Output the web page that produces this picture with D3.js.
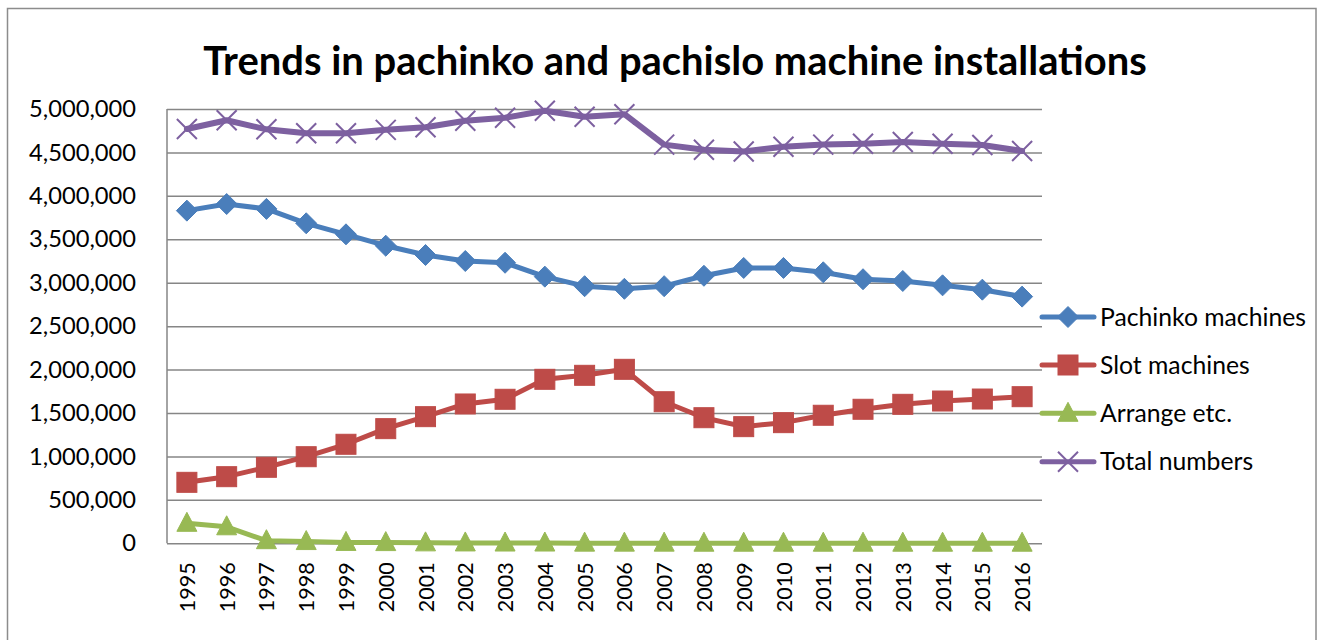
<!DOCTYPE html>
<html>
<head>
<meta charset="utf-8">
<script src="https://cdn.jsdelivr.net/npm/d3@7/dist/d3.min.js"></script>
<style>
  html, body { margin: 0; padding: 0; background: #fff; }
  svg { display: block; }
  text { font-family: Lato, "Open Sans", sans-serif; fill: #000; }
</style>
</head>
<body>
<svg id="chart" width="1319" height="640"></svg>
<script>
const years = ["1995","1996","1997","1998","1999","2000","2001","2002","2003","2004","2005","2006","2007","2008","2009","2010","2011","2012","2013","2014","2015","2016"];
const pachinko = [3830000,3906000,3850000,3684000,3557000,3426000,3319000,3250000,3230000,3070000,2960000,2930000,2960000,3080000,3170000,3170000,3120000,3040000,3020000,2970000,2920000,2840000];
const slot = [702000,767000,875000,997000,1140000,1320000,1458000,1604000,1658000,1888000,1934000,2003000,1630000,1446000,1343000,1389000,1474000,1543000,1600000,1638000,1661000,1688000];
const arrange = [230000,190000,30000,20000,10000,8000,5000,4000,3000,3000,2000,2000,2000,1000,1000,1000,1000,1000,1000,1000,1000,1000];
const total = [4770000,4870000,4766000,4720000,4720000,4760000,4790000,4865000,4900000,4980000,4910000,4940000,4590000,4530000,4510000,4566000,4590000,4600000,4620000,4600000,4585000,4517000];
const yTicks = [0,500000,1000000,1500000,2000000,2500000,3000000,3500000,4000000,4500000,5000000];
const seriesNames = ["Pachinko machines","Slot machines","Arrange etc.","Total numbers"];
const titleText = "Trends in pachinko and pachislo machine installations";

const series = [
  {name: seriesNames[0], values: pachinko, color: "#4A7EBB", marker: "diamond"},
  {name: seriesNames[1], values: slot, color: "#BE4B48", marker: "square"},
  {name: seriesNames[2], values: arrange, color: "#98B954", marker: "triangle"},
  {name: seriesNames[3], values: total, color: "#7D60A0", marker: "x"}
];

const svg = d3.select("#chart");
const L = 167, R = 1042, T = 109, B = 543.3;

const x = d3.scalePoint().domain(years).range([L, R]).padding(0.5);
const y = d3.scaleLinear().domain([0, 5000000]).range([B, T]);

// outer border
svg.append("rect").attr("x", 7.5).attr("y", 8.5).attr("width", 1308.5).attr("height", 700)
  .attr("fill", "none").attr("stroke", "#8c8c8c").attr("stroke-width", 1.5);

function fit(sel, target) {
  const node = sel.node();
  const fs = parseFloat(sel.attr("font-size"));
  const w = node.getComputedTextLength();
  sel.attr("font-size", (fs * target / w).toFixed(2));
}

// title
const title = svg.append("text").attr("x", 675).attr("y", 75).attr("text-anchor", "middle")
  .attr("font-weight", "bold").attr("font-size", 36).text(titleText);
fit(title, 944);

// gridlines
const yAxis = d3.axisLeft(y).tickValues(yTicks).tickSize(-(R - L)).tickFormat(d3.format(",")).tickPadding(31);
const gy = svg.append("g").attr("transform", `translate(${L},0)`).call(yAxis);
gy.select(".domain").remove();
gy.selectAll(".tick line").attr("stroke", "#868686").attr("stroke-width", 1.5);
gy.selectAll(".tick text").attr("font-size", 22).attr("font-family", "Lato, sans-serif").attr("fill", "#000");
// fit y tick label size
{
  const t5 = gy.selectAll(".tick text").filter(d => d === 5000000);
  const w = t5.node().getComputedTextLength();
  const fs = 22 * 107 / w;
  gy.selectAll(".tick text").attr("font-size", fs.toFixed(2));
}
// left axis line
svg.append("line").attr("x1", L).attr("x2", L).attr("y1", T).attr("y2", B)
  .attr("stroke", "#868686").attr("stroke-width", 1.5);

// x axis labels
const xAxis = d3.axisBottom(x).tickSize(0).tickPadding(0);
const gx = svg.append("g").attr("transform", `translate(0,${B})`).call(xAxis);
gx.select(".domain").remove();
gx.selectAll(".tick text")
  .attr("font-size", 22).attr("font-family", "Lato, sans-serif").attr("fill", "#000")
  .attr("text-anchor", "end").attr("transform", "rotate(-90)")
  .attr("x", -19).attr("y", 0).attr("dy", "0.35em");
{
  const t = gx.select(".tick text");
  const w = t.node().getComputedTextLength();
  const fs = 22 * 50 / w;
  gx.selectAll(".tick text").attr("font-size", fs.toFixed(2));
}

function drawMarker(g, type, cx, cy, color) {
  if (type === "diamond") {
    g.append("path").attr("d", `M${cx},${cy-10.5}L${cx+10.5},${cy}L${cx},${cy+10.5}L${cx-10.5},${cy}Z`)
      .attr("fill", color).attr("stroke", color).attr("stroke-width", 1);
  } else if (type === "square") {
    g.append("rect").attr("x", cx - 10).attr("y", cy - 10).attr("width", 20).attr("height", 20)
      .attr("fill", color).attr("stroke", color).attr("stroke-width", 1);
  } else if (type === "triangle") {
    g.append("path").attr("d", `M${cx},${cy-11}L${cx+10},${cy+8}L${cx-10},${cy+8}Z`)
      .attr("fill", color).attr("stroke", color).attr("stroke-width", 1);
  } else if (type === "x") {
    g.append("path").attr("d", `M${cx-10},${cy-10}L${cx+10},${cy+10}M${cx+10},${cy-10}L${cx-10},${cy+10}`)
      .attr("fill", "none").attr("stroke", color).attr("stroke-width", 2);
  }
}

const line = d3.line().x((d, i) => x(years[i])).y(d => y(d));

series.forEach(s => {
  const g = svg.append("g");
  g.append("path").datum(s.values).attr("d", line).attr("fill", "none")
    .attr("stroke", s.color).attr("stroke-width", s.marker === "x" ? 6 : 5)
    .attr("stroke-linejoin", "round").attr("stroke-linecap", "round");
  s.values.forEach((v, i) => drawMarker(g, s.marker, x(years[i]), y(v), s.color));
});

// legend
const legY = [317, 365, 413.3, 461.7];
series.forEach((s, i) => {
  const g = svg.append("g");
  const cy = legY[i];
  g.append("line").attr("x1", 1042).attr("x2", 1094).attr("y1", cy).attr("y2", cy)
    .attr("stroke", s.color).attr("stroke-width", 5).attr("stroke-linecap", "round");
  drawMarker(g, s.marker, 1068, cy, s.color);
  const t = g.append("text").attr("x", 1100).attr("y", cy).attr("dy", "0.35em")
    .attr("font-size", 22).text(s.name);
  if (i === 0) {
    fit(t, 206);
  }
});
{
  const fs = svg.selectAll("g").filter(function(){ return false; });
}
// apply same legend font size to all
const legTexts = svg.selectAll("g > text").filter(function(){ return seriesNames.includes(this.textContent); });
const fs0 = legTexts.filter(function(){ return this.textContent === seriesNames[0]; }).attr("font-size");
legTexts.attr("font-size", fs0);
</script>
</body>
</html>
